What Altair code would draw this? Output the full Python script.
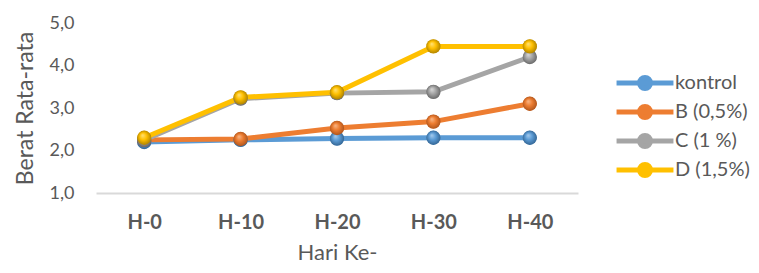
import altair as alt
import pandas as pd

days = ["H-0", "H-10", "H-20", "H-30", "H-40"]
series = ["kontrol", "B (0,5%)", "C (1 %)", "D (1,5%)"]
kontrol = [2.20, 2.25, 2.28, 2.30, 2.30]
b_05 = [2.25, 2.27, 2.53, 2.68, 3.10]
c_1 = [2.25, 3.22, 3.35, 3.38, 4.20]
d_15 = [2.30, 3.25, 3.37, 4.45, 4.45]
y_ticks = [1, 2, 3, 4, 5]

colors = ["#5B9BD5", "#ED7D31", "#A5A5A5", "#FFC000"]
light = ["#A9CDEE", "#F8B98C", "#DADADA", "#FFE27A"]
dark = ["#2F5F8C", "#A8501A", "#626262", "#A67C00"]

rows = []
for i, (s, vals) in enumerate(zip(series, [kontrol, b_05, c_1, d_15])):
    for d, v in zip(days, vals):
        rows.append({"hari": d, "seri": s, "berat": v, "urut": i})
df = pd.DataFrame(rows)

FONT = "Lato"
GREY = "#595959"

x_enc = alt.X(
    "hari:N",
    sort=days,
    scale=alt.Scale(type="point", padding=0.5),
    title="Hari Ke-",
)
y_enc = alt.Y(
    "berat:Q",
    scale=alt.Scale(domain=[1, 5], nice=False, zero=False),
    title="Berat Rata-rata",
    axis=alt.Axis(
        values=y_ticks,
        format=".1f",
        labelExpr="replace(datum.label, '.', ',')",
    ),
)

legend_path = (
    "M-2.71,0L2.71,0"
    "M-0.52,0A0.52,0.52,0,1,1,0.52,0A0.52,0.52,0,1,1,-0.52,0Z"
)

color_enc = alt.Color(
    "seri:N",
    sort=series,
    scale=alt.Scale(domain=series, range=colors),
    legend=alt.Legend(
        title=None,
        orient="none",
        legendX=536,
        legendY=47,
        symbolType=legend_path,
        symbolSize=441,
        symbolStrokeWidth=5,
        symbolOpacity=1,
        labelFontSize=20,
        labelOffset=17,
        labelColor=GREY,
        labelFont=FONT,
        rowPadding=-4,
        padding=0,
    ),
)

lines = alt.Chart(df).mark_line(
    strokeWidth=5,
    point=alt.OverlayMarkDef(filled=True, size=190, opacity=1),
).encode(x=x_enc, y=y_enc, color=color_enc, order="urut:Q", detail="seri:N")

layers = [lines]
for i, s in enumerate(series):
    grad = {
        "gradient": "radial",
        "x1": 0.38, "y1": 0.32, "r1": 0,
        "x2": 0.5, "y2": 0.5, "r2": 0.55,
        "stops": [
            {"offset": 0, "color": light[i]},
            {"offset": 0.45, "color": colors[i]},
            {"offset": 1, "color": dark[i]},
        ],
    }
    pts = alt.Chart(df).transform_filter(
        alt.datum.seri == s
    ).mark_point(filled=True, size=205, fill=grad, opacity=1, strokeWidth=0).encode(
        x=x_enc, y=y_enc
    )
    layers.append(pts)

chart = alt.layer(*layers).properties(
    width=482,
    height=170,
    background="white",
    autosize=alt.AutoSizeParams(type="none"),
    padding={"left": 88, "top": 15, "right": 173, "bottom": 72},
).configure_view(stroke=None).configure_axis(
    labelColor=GREY, titleColor=GREY, labelFont=FONT, titleFont=FONT,
    grid=False, ticks=False, titleFontWeight="normal",
).configure_axisX(
    labelAngle=0,
    labelFontWeight="bold",
    labelFontSize=20,
    labelPadding=19,
    titleFontSize=22,
    titlePadding=10,
    domain=True,
    domainColor="#D9D9D9",
    domainWidth=2,
).configure_axisY(
    labelFontSize=18,
    labelPadding=22,
    titleFontSize=23,
    titlePadding=12,
    domain=False,
)

chart.save("out.html", embed_options={"renderer": "svg", "actions": False})
